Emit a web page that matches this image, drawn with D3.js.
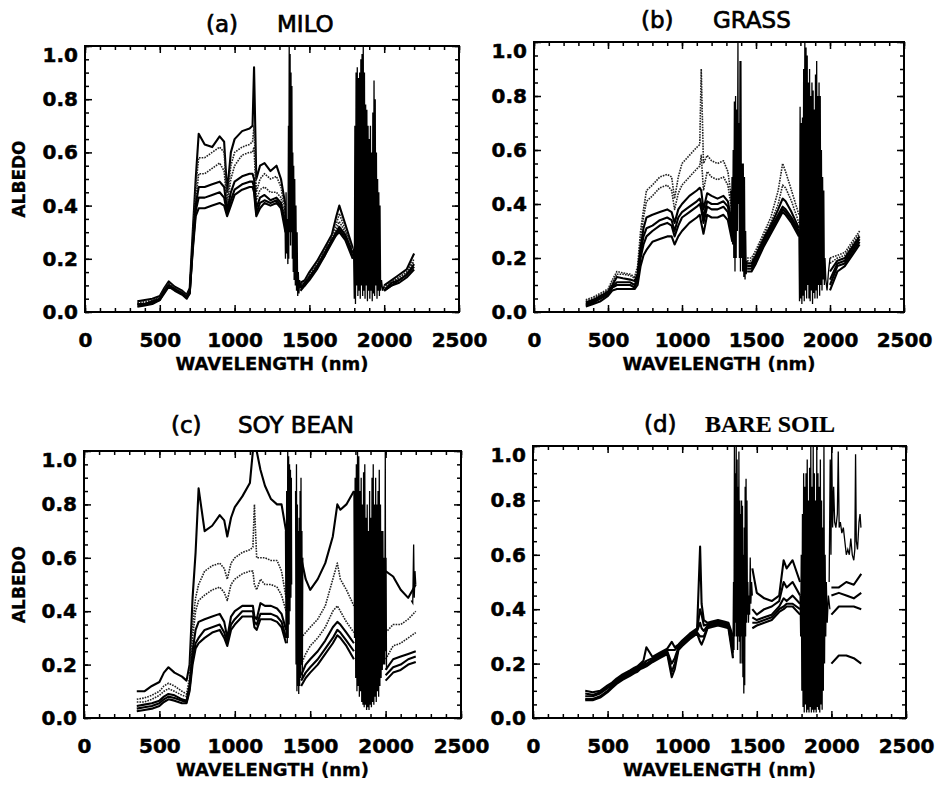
<!DOCTYPE html>
<html lang="en">
<head>
<meta charset="UTF-8">
<title>Spectral albedo</title>
<script src="https://d3js.org/d3.v7.min.js"></script>
<style>
  body { margin: 0; background: #fff; }
</style>
</head>
<body>
<div id="chart"></div>
<script>
// wavelength grid (nm) used by the smooth curves, null rows = absorption band gaps
var wavelengths = [350, 400, 450, 500, 530, 560, 600, 650, 680, 700,
    720, 740, 760, 800, 850, 900, 930, 950, 975, 1000,
    1050, 1100, 1120, 1130, 1145, 1170, 1200, 1240, 1280, 1310,
    1340, 1390, 1440, 1470, 1500, 1550, 1600, 1650, 1680, 1700,
    1740, 1790, 1890, 2000, 2050, 2100, 2150, 2200];

var xMajor = [0, 500, 1000, 1500, 2000, 2500];
var yMajor = [0, 0.2, 0.4, 0.6, 0.8, 1.0];

// (a) milo: one row per wavelength, one column per spectrum
var miloRows = [
    [0.04, 0.035, 0.03, 0.03, 0.025, 0.02], [0.045, 0.04, 0.035, 0.03, 0.03, 0.025],
    [0.05, 0.045, 0.04, 0.04, 0.035, 0.03], [0.06, 0.055, 0.05, 0.05, 0.045, 0.045],
    [0.09, 0.085, 0.08, 0.08, 0.075, 0.07], [0.115, 0.11, 0.105, 0.1, 0.1, 0.095],
    [0.095, 0.09, 0.09, 0.085, 0.085, 0.08], [0.08, 0.075, 0.075, 0.07, 0.07, 0.065],
    [0.065, 0.06, 0.06, 0.055, 0.055, 0.05], [0.09, 0.08, 0.08, 0.075, 0.07, 0.07],
    [0.3, 0.28, 0.26, 0.25, 0.24, 0.23], [0.5, 0.47, 0.42, 0.4, 0.38, 0.36],
    [0.67, 0.58, 0.52, 0.47, 0.43, 0.39], [0.63, 0.58, 0.52, 0.47, 0.43, 0.39],
    [0.62, 0.6, 0.54, 0.48, 0.44, 0.4], [0.66, 0.62, 0.56, 0.49, 0.45, 0.41],
    [0.64, 0.6, 0.53, 0.47, 0.43, 0.4], [0.45, 0.42, 0.4, 0.38, 0.37, 0.36],
    [0.6, 0.55, 0.5, 0.45, 0.42, 0.4], [0.65, 0.6, 0.55, 0.49, 0.46, 0.44],
    [0.68, 0.62, 0.59, 0.51, 0.48, 0.46], [0.69, 0.63, 0.6, 0.52, 0.49, 0.47],
    [0.7, 0.64, 0.6, 0.52, 0.49, 0.47], [0.92, 0.7, 0.62, 0.5, 0.47, 0.45],
    [0.5, 0.45, 0.42, 0.39, 0.37, 0.36], [0.55, 0.5, 0.46, 0.43, 0.41, 0.39],
    [0.56, 0.52, 0.47, 0.44, 0.42, 0.41], [0.53, 0.5, 0.45, 0.42, 0.41, 0.4],
    [0.55, 0.51, 0.45, 0.43, 0.42, 0.41], [0.5, 0.47, 0.43, 0.41, 0.4, 0.39],
    [0.4, 0.37, 0.35, 0.33, 0.32, 0.3], null,
    [0.11, 0.1, 0.1, 0.09, 0.09, 0.08], [0.12, 0.115, 0.11, 0.11, 0.1, 0.1],
    [0.15, 0.14, 0.14, 0.13, 0.13, 0.12], [0.19, 0.18, 0.18, 0.17, 0.17, 0.16],
    [0.24, 0.23, 0.23, 0.22, 0.21, 0.21], [0.29, 0.28, 0.28, 0.27, 0.27, 0.26],
    [0.36, 0.33, 0.31, 0.3, 0.29, 0.29], [0.4, 0.37, 0.34, 0.32, 0.31, 0.3],
    [0.33, 0.31, 0.3, 0.29, 0.28, 0.27], [0.24, 0.23, 0.22, 0.22, 0.21, 0.2],
    null,
    [0.1, 0.09, 0.09, 0.08, 0.08, 0.08], [0.12, 0.115, 0.11, 0.11, 0.1, 0.1],
    [0.14, 0.13, 0.13, 0.12, 0.12, 0.11], [0.16, 0.15, 0.15, 0.14, 0.14, 0.13],
    [0.22, 0.2, 0.19, 0.18, 0.17, 0.16]
];
// water absorption bands, [wavelength, albedo] as traced
var miloBand1 = [[1336, 0.4], [1340, 0.2], [1344, 0.45], [1348, 0.22], [1352, 0.35], [1356, 0.18],
    [1360, 0.7], [1362, 0.2], [1365, 1.0], [1368, 0.3], [1371, 0.97], [1374, 0.25], [1377, 0.9],
    [1380, 0.3], [1383, 0.85], [1386, 0.2], [1389, 0.6], [1392, 0.15], [1395, 0.55], [1398, 0.12],
    [1402, 0.5], [1406, 0.1], [1410, 0.4], [1414, 0.08], [1418, 0.3], [1422, 0.06], [1426, 0.15],
    [1430, 0.07], [1435, 0.12], [1440, 0.09], [1446, 0.11]];
var miloBand2 = [[1795, 0.24], [1800, 0.05], [1804, 0.7], [1808, 0.03], [1812, 0.9], [1816, 0.1],
    [1820, 0.92], [1824, 0.06], [1828, 0.88], [1832, 0.08], [1836, 0.9], [1840, 0.05], [1844, 0.95],
    [1848, 0.1], [1852, 0.97], [1856, 0.06], [1860, 1.0], [1864, 0.08], [1868, 0.9], [1872, 0.05],
    [1876, 0.78], [1880, 0.1], [1884, 0.76], [1888, 0.04], [1892, 0.7], [1896, 0.08], [1900, 0.65],
    [1904, 0.05], [1908, 0.7], [1912, 0.08], [1916, 0.6], [1920, 0.04], [1924, 0.75], [1928, 0.07],
    [1932, 0.87], [1936, 0.06], [1940, 0.8], [1944, 0.1], [1948, 0.6], [1952, 0.05], [1956, 0.5],
    [1960, 0.08], [1964, 0.45], [1968, 0.06], [1972, 0.4], [1976, 0.08], [1982, 0.12], [1990, 0.08],
    [2000, 0.1]];

// (b) grass
var grassRows = [
    [0.045, 0.04, 0.035, 0.03, 0.025, 0.02], [0.055, 0.05, 0.045, 0.04, 0.035, 0.03],
    [0.07, 0.065, 0.06, 0.055, 0.05, 0.04], [0.085, 0.08, 0.075, 0.07, 0.065, 0.06],
    [0.12, 0.11, 0.1, 0.095, 0.09, 0.08], [0.15, 0.14, 0.13, 0.11, 0.1, 0.085],
    [0.145, 0.14, 0.125, 0.11, 0.1, 0.085], [0.14, 0.135, 0.12, 0.11, 0.1, 0.085],
    [0.13, 0.125, 0.115, 0.1, 0.09, 0.085], [0.17, 0.15, 0.14, 0.13, 0.12, 0.1],
    [0.3, 0.27, 0.24, 0.22, 0.2, 0.17], [0.38, 0.35, 0.31, 0.28, 0.25, 0.21],
    [0.45, 0.41, 0.35, 0.31, 0.28, 0.23], [0.47, 0.43, 0.36, 0.32, 0.3, 0.26],
    [0.5, 0.46, 0.37, 0.34, 0.32, 0.27], [0.51, 0.47, 0.38, 0.35, 0.33, 0.28],
    [0.5, 0.45, 0.37, 0.34, 0.32, 0.28], [0.42, 0.38, 0.33, 0.3, 0.28, 0.25],
    [0.5, 0.44, 0.38, 0.35, 0.32, 0.28], [0.55, 0.47, 0.4, 0.37, 0.35, 0.3],
    [0.58, 0.5, 0.43, 0.39, 0.37, 0.33], [0.61, 0.53, 0.45, 0.41, 0.39, 0.35],
    [0.62, 0.54, 0.46, 0.42, 0.4, 0.36], [0.9, 0.58, 0.45, 0.4, 0.38, 0.33],
    [0.55, 0.45, 0.38, 0.35, 0.33, 0.29], [0.58, 0.52, 0.44, 0.41, 0.39, 0.36],
    [0.56, 0.5, 0.43, 0.4, 0.38, 0.35], [0.55, 0.49, 0.42, 0.4, 0.38, 0.35],
    [0.56, 0.5, 0.43, 0.41, 0.39, 0.36], [0.52, 0.47, 0.41, 0.39, 0.37, 0.34],
    [0.4, 0.36, 0.32, 0.3, 0.28, 0.26], null,
    [0.2, 0.19, 0.18, 0.17, 0.16, 0.15], [0.2, 0.19, 0.18, 0.17, 0.16, 0.15],
    [0.23, 0.22, 0.21, 0.2, 0.19, 0.18], [0.29, 0.28, 0.27, 0.26, 0.25, 0.24],
    [0.35, 0.33, 0.32, 0.31, 0.3, 0.29], [0.45, 0.4, 0.38, 0.36, 0.35, 0.34],
    [0.55, 0.47, 0.42, 0.39, 0.38, 0.37], [0.52, 0.46, 0.41, 0.38, 0.37, 0.36],
    [0.45, 0.41, 0.37, 0.35, 0.34, 0.33], [0.36, 0.33, 0.31, 0.3, 0.29, 0.28],
    null,
    [0.2, 0.18, 0.15, 0.12, 0.1, 0.08], [0.21, 0.2, 0.19, 0.18, 0.17, 0.15],
    [0.22, 0.21, 0.2, 0.19, 0.18, 0.17], [0.26, 0.25, 0.24, 0.23, 0.22, 0.21],
    [0.3, 0.29, 0.28, 0.27, 0.26, 0.25]
];
var grassBand1 = [[1330, 0.45], [1334, 0.3], [1338, 0.5], [1342, 0.25], [1346, 0.6], [1350, 0.2],
    [1354, 0.78], [1358, 0.15], [1362, 0.8], [1366, 0.2], [1370, 0.75], [1374, 0.3], [1378, 1.0],
    [1380, 0.4], [1384, 0.7], [1388, 0.2], [1392, 0.93], [1395, 0.15], [1398, 0.93], [1402, 0.2],
    [1406, 0.55], [1410, 0.15], [1414, 0.55], [1418, 0.13], [1422, 0.5], [1426, 0.12], [1430, 0.3],
    [1434, 0.14], [1440, 0.19]];
var grassBand2 = [[1790, 0.3], [1794, 0.04], [1798, 0.76], [1802, 0.05], [1806, 0.7], [1810, 0.03],
    [1814, 0.72], [1818, 0.06], [1822, 0.9], [1826, 0.04], [1830, 1.0], [1834, 0.08], [1838, 0.98],
    [1842, 0.05], [1846, 0.95], [1850, 0.1], [1854, 0.85], [1858, 0.05], [1862, 0.9], [1866, 0.04],
    [1870, 0.8], [1874, 0.08], [1878, 0.85], [1882, 0.03], [1886, 0.82], [1890, 0.07], [1894, 0.75],
    [1898, 0.05], [1902, 0.88], [1906, 0.08], [1910, 0.93], [1914, 0.05], [1918, 0.8], [1922, 0.1],
    [1926, 0.85], [1930, 0.06], [1934, 0.8], [1938, 0.1], [1942, 0.6], [1946, 0.08], [1950, 0.5],
    [1954, 0.12], [1958, 0.45], [1962, 0.1], [1966, 0.2], [1972, 0.12], [1980, 0.08], [1990, 0.15],
    [2000, 0.2]];

// (c) soy bean
var soyRows = [
    [0.1, 0.07, 0.06, 0.045, 0.035, 0.025], [0.1, 0.075, 0.06, 0.05, 0.04, 0.03],
    [0.12, 0.085, 0.07, 0.055, 0.045, 0.035], [0.135, 0.1, 0.085, 0.065, 0.055, 0.045],
    [0.17, 0.12, 0.1, 0.08, 0.07, 0.06], [0.19, 0.13, 0.11, 0.09, 0.08, 0.07],
    [0.17, 0.12, 0.1, 0.085, 0.075, 0.065], [0.155, 0.1, 0.085, 0.07, 0.065, 0.055],
    [0.14, 0.09, 0.08, 0.065, 0.06, 0.055], [0.2, 0.15, 0.13, 0.12, 0.11, 0.1],
    [0.45, 0.35, 0.3, 0.25, 0.22, 0.2], [0.62, 0.45, 0.4, 0.33, 0.28, 0.26],
    [0.86, 0.5, 0.44, 0.36, 0.3, 0.28], [0.7, 0.55, 0.46, 0.37, 0.33, 0.3],
    [0.72, 0.57, 0.48, 0.38, 0.34, 0.32], [0.76, 0.58, 0.49, 0.39, 0.35, 0.33],
    [0.74, 0.56, 0.47, 0.36, 0.32, 0.3], [0.68, 0.52, 0.44, 0.3, 0.28, 0.27],
    [0.75, 0.58, 0.5, 0.38, 0.35, 0.33], [0.79, 0.6, 0.52, 0.4, 0.37, 0.35],
    [0.83, 0.62, 0.54, 0.42, 0.4, 0.38], [0.88, 0.63, 0.55, 0.42, 0.4, 0.38],
    [1.0, 0.64, 0.55, 0.42, 0.4, 0.38], [1.05, 0.8, 0.5, 0.38, 0.36, 0.34],
    [1.0, 0.6, 0.48, 0.37, 0.35, 0.33], [0.93, 0.6, 0.52, 0.43, 0.39, 0.37],
    [0.87, 0.6, 0.5, 0.42, 0.39, 0.37], [0.82, 0.59, 0.5, 0.42, 0.39, 0.37],
    [0.8, 0.59, 0.49, 0.41, 0.38, 0.36], [0.8, 0.55, 0.46, 0.39, 0.36, 0.34],
    [0.7, 0.45, 0.4, 0.33, 0.3, 0.28], null,
    [0.6, 0.3, 0.2, 0.16, 0.14, 0.12], [0.52, 0.32, 0.24, 0.2, 0.17, 0.15],
    [0.48, 0.34, 0.27, 0.22, 0.19, 0.17], [0.52, 0.37, 0.3, 0.25, 0.22, 0.2],
    [0.58, 0.42, 0.34, 0.29, 0.26, 0.24], [0.68, 0.52, 0.4, 0.34, 0.3, 0.28],
    [0.8, 0.58, 0.42, 0.36, 0.33, 0.31], [0.78, 0.52, 0.4, 0.35, 0.32, 0.3],
    [0.8, 0.48, 0.36, 0.32, 0.29, 0.27], [0.85, 0.42, 0.32, 0.28, 0.25, 0.22],
    null,
    [0.55, 0.32, 0.22, 0.18, 0.16, 0.14], [0.53, 0.35, 0.27, 0.22, 0.19, 0.17],
    [0.48, 0.35, 0.28, 0.23, 0.2, 0.18], [0.45, 0.37, 0.3, 0.24, 0.22, 0.2],
    [0.5, 0.4, 0.32, 0.25, 0.23, 0.21]
];
var soyBand1 = [[1336, 0.7], [1340, 0.3], [1344, 0.85], [1348, 0.28], [1351, 1.0], [1354, 0.3],
    [1357, 0.98], [1360, 0.35], [1363, 0.95], [1366, 0.4], [1369, 0.93], [1372, 0.45], [1375, 0.9],
    [1377, 0.5]];
var soyBand2 = [[1403, 0.85], [1406, 0.2], [1409, 0.95], [1412, 0.1], [1415, 0.8], [1418, 0.12],
    [1421, 0.7], [1424, 0.09], [1427, 0.75], [1430, 0.12], [1433, 0.85], [1436, 0.15], [1439, 0.9],
    [1442, 0.2], [1445, 0.7], [1448, 0.15], [1451, 0.6]];
var soyBand3 = [[1790, 0.85], [1794, 0.3], [1798, 0.9], [1802, 0.15], [1806, 0.95], [1810, 0.1],
    [1814, 1.0], [1818, 0.12], [1822, 0.98], [1826, 0.08], [1830, 0.85], [1834, 0.1], [1838, 0.9],
    [1842, 0.06], [1846, 0.8], [1850, 0.05], [1854, 0.92], [1858, 0.04], [1862, 0.95], [1866, 0.05],
    [1870, 0.75], [1874, 0.03], [1878, 0.8], [1882, 0.04], [1886, 0.7], [1890, 0.03], [1894, 0.85],
    [1898, 0.05], [1902, 0.75], [1906, 0.04], [1910, 0.9], [1914, 0.06], [1918, 0.95], [1922, 0.05],
    [1926, 0.8], [1930, 0.08], [1934, 0.9], [1938, 0.06], [1942, 0.8], [1946, 0.1], [1950, 0.85],
    [1954, 0.08], [1958, 0.93], [1962, 0.12], [1966, 0.8], [1970, 0.15], [1974, 0.7], [1978, 0.18],
    [1982, 0.7], [1986, 0.2], [1990, 0.6], [1994, 0.2], [1998, 1.0], [2000, 0.25], [2003, 0.6],
    [2006, 0.18]];
var soyBand4 = [[2170, 0.44], [2180, 0.43], [2186, 0.65], [2190, 0.45], [2195, 0.55], [2200, 0.5]];

// (d) bare soil
var soilRows = [
    [0.1, 0.09, 0.08, 0.07, 0.065], [0.095, 0.085, 0.08, 0.07, 0.065],
    [0.1, 0.095, 0.09, 0.08, 0.075], [0.12, 0.115, 0.11, 0.1, 0.095],
    [0.13, 0.125, 0.12, 0.115, 0.11], [0.145, 0.14, 0.135, 0.13, 0.125],
    [0.16, 0.155, 0.15, 0.145, 0.14], [0.175, 0.17, 0.165, 0.16, 0.155],
    [0.185, 0.18, 0.175, 0.17, 0.165], [0.19, 0.185, 0.18, 0.175, 0.17],
    [0.2, 0.195, 0.19, 0.185, 0.18], [0.21, 0.2, 0.195, 0.19, 0.185],
    [0.26, 0.21, 0.2, 0.195, 0.19], [0.225, 0.22, 0.215, 0.21, 0.205],
    [0.24, 0.235, 0.23, 0.225, 0.22], [0.255, 0.25, 0.245, 0.24, 0.235],
    [0.28, 0.25, 0.2, 0.17, 0.15], [0.26, 0.25, 0.22, 0.2, 0.18],
    [0.27, 0.265, 0.26, 0.255, 0.25], [0.285, 0.28, 0.275, 0.27, 0.265],
    [0.31, 0.305, 0.3, 0.295, 0.29], [0.33, 0.325, 0.32, 0.315, 0.31],
    [0.63, 0.4, 0.35, 0.3, 0.28], [0.42, 0.38, 0.33, 0.3, 0.27],
    [0.36, 0.34, 0.32, 0.3, 0.29], [0.35, 0.345, 0.34, 0.335, 0.33],
    [0.355, 0.35, 0.345, 0.34, 0.335], [0.36, 0.355, 0.35, 0.345, 0.34],
    [0.355, 0.35, 0.345, 0.34, 0.335], [0.35, 0.345, 0.34, 0.335, 0.33],
    [0.3, 0.28, 0.26, 0.24, 0.22], null, null,
    [0.55, 0.4, 0.37, 0.35, 0.33], [0.46, 0.38, 0.36, 0.35, 0.34],
    [0.44, 0.4, 0.37, 0.36, 0.35], [0.43, 0.41, 0.38, 0.37, 0.36],
    [0.45, 0.43, 0.41, 0.4, 0.39], [0.58, 0.5, 0.44, 0.41, 0.4],
    [0.55, 0.48, 0.43, 0.42, 0.41], [0.58, 0.5, 0.45, 0.42, 0.41],
    [0.5, 0.45, 0.42, 0.4, 0.38], null,
    [null, 0.48, 0.45, 0.38, 0.2], [null, 0.48, 0.46, 0.41, 0.23],
    [null, 0.5, 0.45, 0.41, 0.23], [null, 0.49, 0.44, 0.41, 0.22],
    [null, 0.53, 0.46, 0.4, 0.2]
];
var soilBand1 = [[1336, 0.3], [1340, 0.22], [1344, 0.5], [1347, 0.25], [1350, 1.0], [1353, 0.3],
    [1356, 0.9], [1359, 0.35], [1362, 1.0], [1365, 0.3], [1368, 0.95], [1371, 0.25], [1374, 0.85],
    [1377, 0.3], [1380, 0.98], [1383, 0.28], [1386, 0.8], [1389, 0.2], [1392, 0.75], [1395, 0.3],
    [1398, 0.8], [1401, 0.2], [1404, 0.78], [1407, 0.15], [1410, 0.6], [1413, 0.09], [1416, 0.7],
    [1419, 0.12], [1422, 0.85], [1425, 0.3], [1428, 0.88], [1431, 0.35], [1434, 0.8], [1437, 0.38],
    [1440, 0.5], [1444, 0.35], [1448, 0.45], [1452, 0.38], [1456, 0.59], [1460, 0.42], [1465, 0.5],
    [1470, 0.45]];
var soilBand2 = [[1790, 0.45], [1794, 0.3], [1798, 0.6], [1802, 0.1], [1806, 0.75], [1810, 0.04],
    [1814, 0.9], [1818, 0.02], [1822, 0.85], [1826, 0.05], [1830, 0.9], [1834, 0.02], [1838, 0.95],
    [1842, 0.03], [1846, 0.8], [1850, 0.02], [1854, 0.92], [1858, 0.04], [1862, 1.0], [1866, 0.02],
    [1870, 0.85], [1874, 0.03], [1878, 1.0], [1882, 0.02], [1886, 0.9], [1890, 0.03], [1894, 0.8],
    [1898, 0.02], [1902, 1.0], [1906, 0.04], [1910, 0.9], [1914, 0.03], [1918, 0.85], [1922, 0.02],
    [1926, 0.95], [1930, 0.05], [1934, 0.8], [1938, 0.03], [1942, 0.7], [1946, 0.1], [1950, 1.0],
    [1954, 0.2], [1958, 0.6], [1962, 0.3], [1966, 0.5], [1972, 0.35], [1980, 0.45], [1990, 0.4]];
var soilBand3 = [[1985, 0.5], [1992, 0.95], [1997, 0.6], [2002, 1.0], [2008, 0.7], [2015, 0.85],
    [2022, 0.72], [2030, 0.7], [2040, 0.75], [2046, 0.98], [2052, 0.7], [2060, 0.72], [2070, 0.68],
    [2080, 0.7], [2090, 0.65], [2100, 0.6], [2110, 0.62], [2120, 0.6], [2130, 0.66], [2140, 0.6],
    [2150, 0.58], [2157, 0.62], [2162, 0.97], [2167, 0.65], [2175, 0.62], [2185, 0.72], [2192, 0.75],
    [2198, 0.7]];

var panels = [
    {id: "a", tag: "(a)", name: "MILO", rows: miloRows, bands: [miloBand1, miloBand2]},
    {id: "b", tag: "(b)", name: "GRASS", rows: grassRows, bands: [grassBand1, grassBand2]},
    {id: "c", tag: "(c)", name: "SOY BEAN", rows: soyRows, bands: [soyBand1, soyBand2, soyBand3, soyBand4]},
    {id: "d", tag: "(d)", name: "BARE SOIL", rows: soilRows, bands: [soilBand1, soilBand2, soilBand3]}
];

// placement of each panel on the page
var layout = {
    a: {left: 85, right: 459, top: 46, bottom: 312, titleY: 32, tagX: 206, nameX: 277, yTitle: true, dotted: [1, 2], nameFont: "DejaVu Sans", nameWeight: "normal", nameSize: 23},
    b: {left: 534, right: 904, top: 42, bottom: 312, titleY: 28, tagX: 641, nameX: 713, yTitle: false, dotted: [0, 1], nameFont: "DejaVu Sans", nameWeight: "normal", nameSize: 23},
    c: {left: 84, right: 461, top: 451, bottom: 718, titleY: 433, tagX: 171, nameX: 238, yTitle: true, dotted: [1, 2], nameFont: "DejaVu Sans", nameWeight: "normal", nameSize: 23},
    d: {left: 533, right: 906, top: 446, bottom: 718, titleY: 432, tagX: 644, nameX: 705, yTitle: false, dotted: [], nameFont: "Liberation Serif", nameWeight: "bold", nameSize: 24}
};

var svg = d3.select("#chart").append("svg")
    .attr("width", 935)
    .attr("height", 785)
    .style("background", "#fff");

panels.forEach(function(p) {
    var L = layout[p.id];
    var w = L.right - L.left, h = L.bottom - L.top;

    var x = d3.scaleLinear().domain([0, 2500]).range([0, w]);
    var y = d3.scaleLinear().domain([0, 1]).range([h, 0]);

    var g = svg.append("g").attr("transform", "translate(" + L.left + "," + L.top + ")");

    svg.append("clipPath").attr("id", "clip-" + p.id)
        .append("rect").attr("width", w).attr("height", h);

    var plot = g.append("g").attr("clip-path", "url(#clip-" + p.id + ")");

    var line = d3.line()
        .defined(function(d) { return d[1] != null; })
        .x(function(d) { return x(d[0]); })
        .y(function(d) { return y(d[1]); });

    // smooth spectra
    var nCurves = p.rows.find(function(r) { return r; }).length;
    for (var k = 0; k < nCurves; k++) {
        var pts = wavelengths.map(function(wl, i) {
            return [wl, p.rows[i] ? p.rows[i][k] : null];
        });
        var dotted = L.dotted.indexOf(k) >= 0;
        plot.append("path")
            .datum(pts)
            .attr("fill", "none")
            .attr("stroke", dotted ? "#222" : "#000")
            .attr("stroke-width", dotted ? 1.6 : 2.1)
            .attr("stroke-dasharray", dotted ? "1.6,1.1" : null)
            .attr("stroke-linejoin", "round")
            .attr("d", line);
    }

    // noisy absorption bands
    p.bands.forEach(function(b) {
        plot.append("path")
            .datum(b)
            .attr("fill", "none")
            .attr("stroke", "#000")
            .attr("stroke-width", 1.3)
            .attr("d", line);
    });

    // axes, ticks pointing inward on all four sides
    var xMinor = d3.range(0, 2501, 100), yMinor = d3.range(0, 1.001, 0.05);
    var tickFont = function(sel) {
        sel.select(".domain").remove();
        sel.selectAll("line").attr("stroke", "#000").attr("stroke-width", 1.5);
        sel.selectAll("text")
            .attr("font-family", "DejaVu Sans")
            .attr("font-weight", "bold")
            .attr("font-size", 20)
            .attr("fill", "#000")
            .attr("stroke", "#000")
            .attr("stroke-width", 0.5);
    };

    g.append("g").attr("transform", "translate(0," + h + ")")
        .call(d3.axisBottom(x).tickValues(xMajor).tickSize(-7).tickPadding(21).tickFormat(d3.format("d")))
        .call(tickFont);
    g.append("g").attr("transform", "translate(0," + h + ")")
        .call(d3.axisBottom(x).tickValues(xMinor).tickSize(-4).tickFormat(""))
        .call(tickFont);
    g.append("g")
        .call(d3.axisTop(x).tickValues(xMajor).tickSize(-7).tickFormat(""))
        .call(tickFont);
    g.append("g")
        .call(d3.axisTop(x).tickValues(xMinor).tickSize(-4).tickFormat(""))
        .call(tickFont);

    g.append("g")
        .call(d3.axisLeft(y).tickValues(yMajor).tickSize(-7).tickPadding(7).tickFormat(d3.format(".1f")))
        .call(tickFont)
        .selectAll("text")
        .filter(function(d) { return d === 1; })
        .attr("y", 9);
    g.append("g")
        .call(d3.axisLeft(y).tickValues(yMinor).tickSize(-4).tickFormat(""))
        .call(tickFont);
    g.append("g").attr("transform", "translate(" + w + ",0)")
        .call(d3.axisRight(y).tickValues(yMajor).tickSize(-7).tickFormat(""))
        .call(tickFont);
    g.append("g").attr("transform", "translate(" + w + ",0)")
        .call(d3.axisRight(y).tickValues(yMinor).tickSize(-4).tickFormat(""))
        .call(tickFont);

    g.append("rect")
        .attr("width", w).attr("height", h)
        .attr("fill", "none")
        .attr("stroke", "#000")
        .attr("stroke-width", 2);

    // axis titles
    g.append("text")
        .attr("x", w / 2).attr("y", h + 58)
        .attr("text-anchor", "middle")
        .attr("font-family", "DejaVu Sans").attr("font-weight", "bold").attr("font-size", 18)
        .attr("stroke", "#000").attr("stroke-width", 0.3)
        .text("WAVELENGTH (nm)");

    if (L.yTitle) {
        svg.append("text")
            .attr("transform", "translate(25," + (L.top + h / 2) + ") rotate(-90)")
            .attr("text-anchor", "middle")
            .attr("font-family", "DejaVu Sans").attr("font-weight", "bold").attr("font-size", 17)
            .attr("stroke", "#000").attr("stroke-width", 0.3)
            .text("ALBEDO");
    }

    // panel title
    svg.append("text")
        .attr("x", L.tagX).attr("y", L.titleY)
        .attr("font-family", "DejaVu Sans").attr("font-size", 23)
        .attr("stroke", "#000").attr("stroke-width", 0.7)
        .text(p.tag);
    svg.append("text")
        .attr("x", L.nameX).attr("y", L.titleY)
        .attr("font-family", L.nameFont).attr("font-weight", L.nameWeight).attr("font-size", L.nameSize)
        .attr("stroke", "#000").attr("stroke-width", L.nameWeight === "bold" ? 0.2 : 0.7)
        .text(p.name);
});
</script>
</body>
</html>
